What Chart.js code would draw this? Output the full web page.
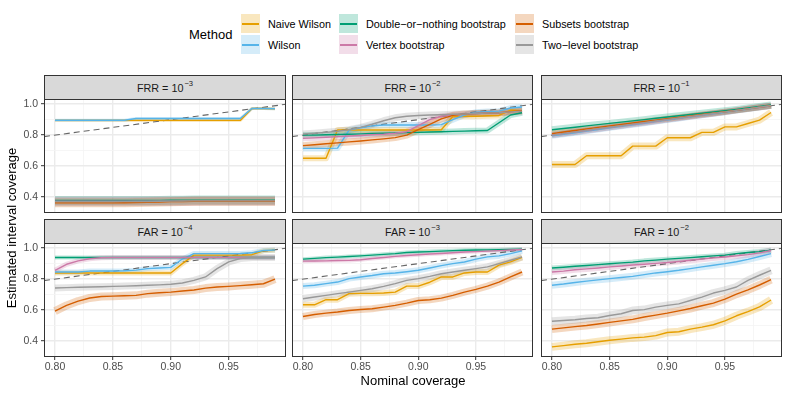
<!DOCTYPE html>
<html>
<head>
<meta charset="utf-8">
<script src="https://cdn.jsdelivr.net/npm/chart.js@4.4.1/dist/chart.umd.min.js"></script>
<style>
  body { margin: 0; width: 789px; height: 395px; background: #fff; position: relative; overflow: hidden;
         font-family: "Liberation Sans", Arial, sans-serif; }
  canvas, .strip, .txt, .key { position: absolute; }
  .strip { box-sizing: border-box; height: 24px; background: #D9D9D9; border: 1px solid #333; border-bottom: none;
           color: #1A1A1A; font-size: 10.8px; display: flex; align-items: center; justify-content: center; }
  .strip .sup { font-size: 7.6px; position: relative; top: -4px; margin-left: 1px; }
  .txt { white-space: nowrap; line-height: 16px; }
  .key { width: 19px; height: 19px; }
  .key i { position: absolute; left: 1px; right: 1px; top: 9px; height: 1.5px; }
</style>
</head>
<body>
<script>
// x values shared by every panel
const coverage = [0.80, 0.81, 0.82, 0.83, 0.84, 0.85, 0.86, 0.87, 0.88, 0.89,
                  0.90, 0.91, 0.92, 0.93, 0.94, 0.95, 0.96, 0.97, 0.98, 0.99];

const methods = ['Naive Wilson', 'Wilson', 'Double−or−nothing bootstrap',
                 'Vertex bootstrap', 'Subsets bootstrap', 'Two−level bootstrap'];
const methodColors = ['#E69F00', '#56B4E9', '#009E73', '#CC79A7', '#D55E00', '#999999'];

const panelNames = ['FRR', 'FRR', 'FRR', 'FAR', 'FAR', 'FAR'];
const panelExponents = ['−3', '−2', '−1', '−4', '−3', '−2'];

const yTicks = [0.3, 0.4, 0.5, 0.6, 0.7, 0.8, 0.9, 1.0];
const yTickLabels = ['', '0.4', '', '0.6', '', '0.8', '', '1.0'];
const xTicks = [0.8, 0.825, 0.85, 0.875, 0.9, 0.925, 0.95, 0.975];
const xTickLabels = ['0.80', '', '0.85', '', '0.90', '', '0.95', ''];

// series per panel, in the order of `methods`
const frr3 = [
  [0.895, 0.895, 0.895, 0.895, 0.895, 0.895, 0.895, 0.895, 0.895, 0.895, 0.895, 0.895, 0.895, 0.895, 0.895, 0.895, 0.895, 0.972, 0.972, 0.97],
  [0.896, 0.896, 0.896, 0.896, 0.896, 0.896, 0.896, 0.907, 0.907, 0.907, 0.907, 0.907, 0.907, 0.907, 0.907, 0.907, 0.907, 0.972, 0.972, 0.97],
  [0.378, 0.378, 0.378, 0.378, 0.378, 0.378, 0.378, 0.378, 0.378, 0.378, 0.379, 0.379, 0.38, 0.38, 0.38, 0.38, 0.38, 0.38, 0.38, 0.38],
  [0.372, 0.372, 0.372, 0.372, 0.372, 0.372, 0.372, 0.372, 0.372, 0.372, 0.373, 0.373, 0.373, 0.374, 0.374, 0.374, 0.374, 0.374, 0.374, 0.374],
  [0.362, 0.362, 0.362, 0.362, 0.362, 0.362, 0.363, 0.364, 0.366, 0.368, 0.37, 0.371, 0.372, 0.372, 0.372, 0.372, 0.372, 0.372, 0.372, 0.372],
  [0.37, 0.37, 0.37, 0.37, 0.37, 0.37, 0.37, 0.371, 0.371, 0.372, 0.373, 0.374, 0.375, 0.375, 0.375, 0.375, 0.375, 0.375, 0.375, 0.375]
];
const frr2 = [
  [0.65, 0.65, 0.65, 0.833, 0.833, 0.833, 0.833, 0.833, 0.833, 0.833, 0.833, 0.833, 0.835, 0.92, 0.922, 0.922, 0.925, 0.927, 0.962, 0.958],
  [0.714, 0.714, 0.714, 0.716, 0.833, 0.848, 0.86, 0.865, 0.865, 0.865, 0.865, 0.865, 0.868, 0.9, 0.93, 0.948, 0.952, 0.955, 0.975, 0.982],
  [0.80, 0.80, 0.802, 0.804, 0.806, 0.808, 0.81, 0.812, 0.814, 0.816, 0.818, 0.82, 0.822, 0.824, 0.826, 0.828, 0.83, 0.88, 0.93, 0.945],
  [0.779, 0.782, 0.786, 0.79, 0.794, 0.798, 0.802, 0.806, 0.812, 0.822, 0.862, 0.9, 0.922, 0.93, 0.935, 0.94, 0.942, 0.945, 0.95, 0.955],
  [0.732, 0.738, 0.744, 0.75, 0.756, 0.762, 0.769, 0.776, 0.784, 0.80, 0.835, 0.87, 0.905, 0.928, 0.937, 0.94, 0.942, 0.945, 0.952, 0.958],
  [0.807, 0.812, 0.818, 0.825, 0.835, 0.85, 0.87, 0.893, 0.912, 0.922, 0.927, 0.93, 0.932, 0.935, 0.937, 0.94, 0.942, 0.945, 0.95, 0.955]
];
const frr1 = [
  [0.61, 0.61, 0.61, 0.667, 0.667, 0.667, 0.667, 0.729, 0.729, 0.729, 0.783, 0.783, 0.783, 0.818, 0.818, 0.853, 0.853, 0.875, 0.897, 0.946],
  [0.795, 0.805, 0.815, 0.826, 0.836, 0.847, 0.857, 0.867, 0.877, 0.888, 0.898, 0.908, 0.918, 0.928, 0.938, 0.948, 0.959, 0.969, 0.979, 0.99],
  [0.835, 0.843, 0.851, 0.86, 0.868, 0.876, 0.884, 0.892, 0.9, 0.909, 0.917, 0.925, 0.933, 0.941, 0.95, 0.958, 0.966, 0.975, 0.985, 0.995],
  [0.80, 0.81, 0.82, 0.83, 0.84, 0.85, 0.86, 0.87, 0.88, 0.89, 0.90, 0.91, 0.92, 0.93, 0.94, 0.95, 0.96, 0.97, 0.98, 0.99],
  [0.81, 0.82, 0.83, 0.84, 0.85, 0.86, 0.869, 0.878, 0.888, 0.897, 0.906, 0.915, 0.924, 0.933, 0.942, 0.951, 0.96, 0.97, 0.98, 0.99],
  [0.80, 0.81, 0.82, 0.831, 0.841, 0.851, 0.861, 0.871, 0.881, 0.891, 0.901, 0.911, 0.921, 0.93, 0.94, 0.95, 0.96, 0.97, 0.98, 0.99]
];
const far4 = [
  [0.84, 0.84, 0.84, 0.84, 0.84, 0.84, 0.84, 0.84, 0.84, 0.84, 0.84, 0.90, 0.955, 0.955, 0.955, 0.955, 0.955, 0.958, 0.983, 0.987],
  [0.846, 0.846, 0.846, 0.852, 0.852, 0.852, 0.854, 0.858, 0.868, 0.872, 0.876, 0.93, 0.965, 0.965, 0.965, 0.965, 0.966, 0.97, 0.985, 0.988],
  [0.94, 0.94, 0.94, 0.94, 0.94, 0.94, 0.94, 0.94, 0.94, 0.94, 0.94, 0.94, 0.94, 0.94, 0.94, 0.94, 0.94, 0.94, 0.94, 0.94],
  [0.857, 0.896, 0.918, 0.932, 0.938, 0.94, 0.94, 0.94, 0.94, 0.94, 0.94, 0.94, 0.94, 0.94, 0.94, 0.94, 0.94, 0.94, 0.94, 0.94],
  [0.593, 0.63, 0.658, 0.678, 0.688, 0.69, 0.692, 0.695, 0.706, 0.712, 0.716, 0.723, 0.73, 0.742, 0.749, 0.753, 0.758, 0.764, 0.77, 0.80],
  [0.743, 0.745, 0.747, 0.749, 0.751, 0.753, 0.755, 0.757, 0.76, 0.763, 0.767, 0.775, 0.792, 0.814, 0.868, 0.911, 0.933, 0.94, 0.94, 0.94]
];
const far3 = [
  [0.634, 0.634, 0.667, 0.667, 0.706, 0.708, 0.708, 0.71, 0.716, 0.755, 0.755, 0.78, 0.814, 0.814, 0.84, 0.846, 0.846, 0.89, 0.911, 0.94],
  [0.755, 0.76, 0.771, 0.781, 0.803, 0.814, 0.823, 0.835, 0.84, 0.848, 0.857, 0.872, 0.887, 0.9, 0.911, 0.929, 0.944, 0.95, 0.965, 0.983],
  [0.929, 0.934, 0.939, 0.942, 0.946, 0.95, 0.955, 0.96, 0.965, 0.972, 0.975, 0.978, 0.981, 0.984, 0.987, 0.988, 0.989, 0.99, 0.992, 0.993],
  [0.916, 0.917, 0.918, 0.92, 0.921, 0.925, 0.933, 0.94, 0.947, 0.953, 0.958, 0.962, 0.966, 0.97, 0.975, 0.978, 0.981, 0.984, 0.988, 0.991],
  [0.558, 0.571, 0.58, 0.587, 0.597, 0.604, 0.608, 0.619, 0.63, 0.645, 0.662, 0.667, 0.677, 0.695, 0.716, 0.734, 0.755, 0.781, 0.814, 0.846],
  [0.673, 0.684, 0.695, 0.706, 0.716, 0.727, 0.738, 0.753, 0.771, 0.792, 0.803, 0.818, 0.835, 0.846, 0.857, 0.868, 0.879, 0.9, 0.922, 0.944]
];
const far2 = [
  [0.362, 0.37, 0.379, 0.385, 0.395, 0.405, 0.412, 0.42, 0.425, 0.435, 0.455, 0.46, 0.477, 0.49, 0.505, 0.53, 0.563, 0.59, 0.62, 0.665],
  [0.76, 0.768, 0.778, 0.787, 0.795, 0.803, 0.81, 0.818, 0.829, 0.84, 0.848, 0.857, 0.868, 0.879, 0.89, 0.90, 0.912, 0.928, 0.946, 0.965],
  [0.872, 0.877, 0.883, 0.888, 0.894, 0.899, 0.905, 0.91, 0.918, 0.923, 0.929, 0.934, 0.939, 0.945, 0.95, 0.955, 0.965, 0.972, 0.978, 0.987],
  [0.846, 0.852, 0.861, 0.866, 0.872, 0.879, 0.885, 0.891, 0.896, 0.902, 0.907, 0.914, 0.922, 0.929, 0.937, 0.943, 0.95, 0.958, 0.97, 0.985],
  [0.477, 0.485, 0.493, 0.50, 0.51, 0.52, 0.53, 0.54, 0.555, 0.567, 0.58, 0.595, 0.61, 0.628, 0.645, 0.671, 0.703, 0.73, 0.762, 0.797],
  [0.528, 0.532, 0.537, 0.545, 0.55, 0.565, 0.576, 0.597, 0.603, 0.619, 0.63, 0.64, 0.662, 0.684, 0.71, 0.727, 0.749, 0.792, 0.825, 0.857]
];
const panelSeries = [frr3, frr2, frr1, far4, far3, far2];

// ---- layout / style ----
const colLeft = [44, 292, 541];
const colWidth = [242, 241, 241];
const rowTop = [99, 243];
const plotHeight = 114;
const ribbonWidths = [
  [3, 3, 9, 9, 9, 9],
  [6, 6, 6, 6, 7, 7],
  [7, 6, 7, 6, 6, 6],
  [5, 5, 4, 5, 8, 7],
  [6, 6, 4, 4, 7, 7],
  [8, 7, 5, 6, 8, 8]
];

Chart.defaults.font.family = '"Liberation Sans", Arial, sans-serif';

function fade(hex, a) {
  const n = parseInt(hex.slice(1), 16);
  return `rgba(${(n >> 16) & 255}, ${(n >> 8) & 255}, ${n & 255}, ${a})`;
}

function addEl(cls, css, html) {
  const el = document.createElement('div');
  el.className = cls;
  Object.assign(el.style, css);
  el.innerHTML = html;
  document.body.appendChild(el);
  return el;
}

// panel border drawn round the chart area
const panelBorder = {
  id: 'panelBorder',
  afterDraw(chart) {
    const { ctx, chartArea: a } = chart;
    ctx.save();
    ctx.strokeStyle = '#333';
    ctx.lineWidth = 1;
    ctx.strokeRect(a.left + 0.5, a.top + 0.5, a.right - a.left - 1, a.bottom - a.top - 1);
    ctx.restore();
  }
};

function makePanel(p) {
  const row = Math.floor(p / 3), col = p % 3;
  const leftCol = col === 0, bottomRow = row === 1;
  const yW = leftCol ? 30 : 0;
  const xH = bottomRow ? 20 : 0;
  const plotLeft = colLeft[col], plotTop = rowTop[row], plotW = colWidth[col];

  addEl('strip', { left: plotLeft + 'px', top: (plotTop - 24) + 'px', width: plotW + 'px' },
    `${panelNames[p]} = 10<span class="sup">${panelExponents[p]}</span>`);

  const canvas = document.createElement('canvas');
  canvas.width = plotW + yW;
  canvas.height = plotHeight + xH;
  canvas.style.left = (plotLeft - yW) + 'px';
  canvas.style.top = plotTop + 'px';
  document.body.appendChild(canvas);

  const datasets = [];
  panelSeries[p].forEach((vals, m) => {
    const pts = coverage.map((x, i) => ({ x, y: vals[i] }));
    // light band under each line
    datasets.push({ data: pts, borderColor: fade(methodColors[m], 0.25), borderWidth: ribbonWidths[p][m], order: 40 - m });
    datasets.push({ data: pts, borderColor: methodColors[m], borderWidth: 1.4, order: 20 - m });
  });
  datasets.push({
    data: [{ x: 0.7905, y: 0.7905 }, { x: 0.9995, y: 0.9995 }],
    borderColor: '#666', borderWidth: 1.1, borderDash: [6, 4], order: 30
  });
  datasets.forEach((d) => Object.assign(d, { pointRadius: 0, tension: 0, fill: false, clip: 0, borderJoinStyle: 'round' }));

  new Chart(canvas, {
    type: 'line',
    data: { datasets },
    options: {
      responsive: false,
      animation: false,
      devicePixelRatio: 1,
      events: [],
      layout: { padding: 0 },
      plugins: { legend: { display: false }, tooltip: { enabled: false } },
      scales: {
        x: {
          type: 'linear', min: 0.7905, max: 0.9995,
          afterBuildTicks: (s) => { s.ticks = xTicks.map((v) => ({ value: v })); },
          afterFit: (s) => { s.height = xH; s.paddingLeft = 0; s.paddingRight = 0; },
          ticks: { display: bottomRow, autoSkip: false, maxRotation: 0, minRotation: 0, padding: 1,
                   color: '#4D4D4D', font: { size: 10.5 }, callback: (v, i) => xTickLabels[i] },
          grid: { color: (c) => (c.index % 2 ? '#F4F4F4' : '#EBEBEB'), lineWidth: (c) => (c.index % 2 ? 0.8 : 1.4),
                  drawTicks: bottomRow, tickLength: 3, tickWidth: 1,
                  tickColor: (c) => (c.index % 2 ? 'rgba(0,0,0,0)' : '#333') },
          border: { display: false }
        },
        y: {
          type: 'linear', min: 0.2965, max: 1.0335,
          afterBuildTicks: (s) => { s.ticks = yTicks.map((v) => ({ value: v })); },
          afterFit: (s) => { s.width = yW; s.paddingTop = 0; s.paddingBottom = 0; },
          ticks: { display: leftCol, autoSkip: false, padding: 3,
                   color: '#4D4D4D', font: { size: 10.5 }, callback: (v, i) => yTickLabels[i] },
          grid: { color: (c) => (c.index % 2 ? '#EBEBEB' : '#F4F4F4'), lineWidth: (c) => (c.index % 2 ? 1.4 : 0.8),
                  drawTicks: leftCol, tickLength: 3, tickWidth: 1,
                  tickColor: (c) => (c.index % 2 ? '#333' : 'rgba(0,0,0,0)') },
          border: { display: false }
        }
      }
    },
    plugins: [panelBorder]
  });
}

for (let p = 0; p < 6; p++) makePanel(p);

// axis titles
addEl('txt', { left: '263px', top: '373px', width: '300px', textAlign: 'center', fontSize: '13px' }, 'Nominal coverage');
addEl('txt', { left: '-138px', top: '220px', width: '300px', textAlign: 'center', fontSize: '13px',
               transform: 'rotate(-90deg)' }, 'Estimated interval coverage');

// legend
const legendKeyLeft = [241, 339, 515];
const legendLabelLeft = [268, 366, 542];
const legendRowTop = [14, 35];
addEl('txt', { left: '189px', top: '27px', fontSize: '13px' }, 'Method');
methods.forEach((name, m) => {
  const col = Math.floor(m / 2), row = m % 2;
  const key = addEl('key', { left: legendKeyLeft[col] + 'px', top: legendRowTop[row] + 'px',
                             background: fade(methodColors[m], 0.25) }, '<i></i>');
  key.firstChild.style.background = methodColors[m];
  addEl('txt', { left: legendLabelLeft[col] + 'px', top: (legendRowTop[row] + 2) + 'px', fontSize: '10.8px' }, name);
});
</script>
</body>
</html>
